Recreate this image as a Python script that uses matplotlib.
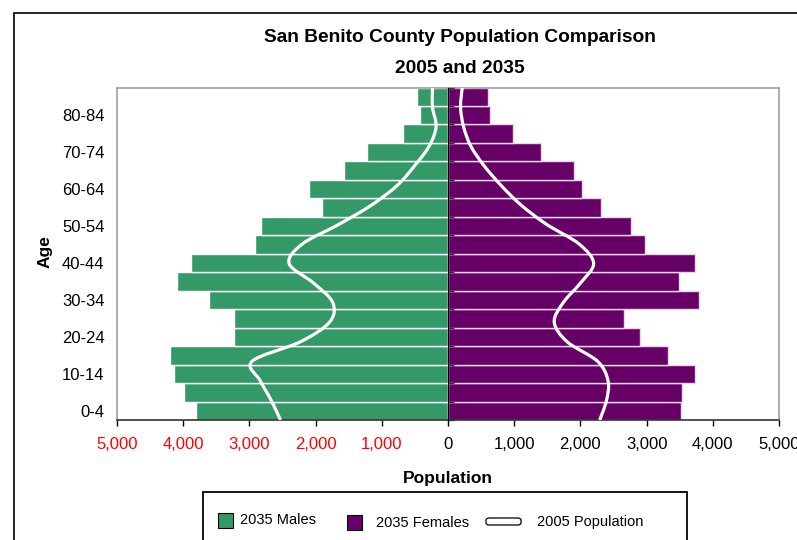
import numpy as np
import matplotlib
matplotlib.use('Agg')
import matplotlib.pyplot as plt
from matplotlib.path import Path
from matplotlib.patches import PathPatch, Rectangle, FancyBboxPatch

plt.rcParams['font.family'] = ['Liberation Sans', 'DejaVu Sans']

age_groups = ['0-4', '5-9', '10-14', '15-19', '20-24', '25-29', '30-34', '35-39',
              '40-44', '45-49', '50-54', '55-59', '60-64', '65-69', '70-74',
              '75-79', '80-84', '85+']

# 2035 projection (bars)
males_2035 = [3800, 3995, 4135, 4195, 3240, 3240, 3615, 4095, 3880,
              2920, 2820, 1910, 2100, 1565, 1225, 675, 430, 475]
females_2035 = [3515, 3535, 3730, 3320, 2900, 2660, 3795, 3495, 3735,
                2975, 2760, 2305, 2025, 1900, 1405, 985, 640, 605]

# 2005 population (white smooth line)
males_2005 = [2530, 2670, 2835, 2960, 2230, 1790, 1740, 2030, 2400,
              2200, 1650, 1150, 765, 505, 285, 180, 235, 233]
females_2005 = [2292, 2394, 2418, 2260, 1800, 1605, 1740, 2000, 2200,
                1980, 1490, 1100, 800, 545, 345, 235, 190, 215]

x_ticks = [-5000, -4000, -3000, -2000, -1000, 0, 1000, 2000, 3000, 4000, 5000]

GREEN = '#339966'
PURPLE = '#660066'

W, H = 797, 540
fig = plt.figure(figsize=(W / 100, H / 100), dpi=100)
fig.patch.set_facecolor('white')

# outer chart border (runs off right / bottom)
fig.patches.append(Rectangle((14 / W, -0.2), 2, 1.2 - 13 / H, transform=fig.transFigure,
                             fill=False, edgecolor='black', lw=1.2))

ax = fig.add_axes([117 / W, 1 - 420 / H, (779 - 117) / W, (420 - 87.5) / H])

y = np.arange(len(age_groups))
ax.barh(y, -np.array(males_2035), height=1.0, color=GREEN, edgecolor='white', lw=1.0, zorder=2)
ax.barh(y, females_2035, height=1.0, color=PURPLE, edgecolor='#e8d8e8', lw=1.0, zorder=2)


def smooth_path(xs, ys):
    pts = np.column_stack([xs, ys]).astype(float)
    ext = np.vstack([pts[0], pts, pts[-1]])
    verts = [pts[0]]
    codes = [Path.MOVETO]
    for i in range(len(pts) - 1):
        p0, p1, p2, p3 = ext[i], ext[i + 1], ext[i + 2], ext[i + 3]
        verts += [p1 + (p2 - p0) / 6, p2 - (p3 - p1) / 6, p2]
        codes += [Path.CURVE4] * 3
    return Path(verts, codes)


# line points spread from bottom edge to top edge of the plot
n = len(age_groups)
line_y = -0.5 + np.arange(n) * n / (n - 1)
for vals in (-np.array(males_2005), np.array(females_2005)):
    ax.add_patch(PathPatch(smooth_path(vals, line_y), fill=False, edgecolor='white',
                           lw=2.3, capstyle='butt', zorder=3))

ax.set_xlim(-5000, 5000)
ax.set_ylim(-0.5, n - 0.5)

ax.set_xticks(x_ticks)
ax.set_xticklabels(['{:,}'.format(abs(v)) for v in x_ticks])
for lab, v in zip(ax.get_xticklabels(), x_ticks):
    lab.set_color('red' if v < 0 else 'black')
ax.tick_params(axis='x', direction='out', length=4, width=1, pad=8, labelsize=12, color='black')

ax.set_yticks(y[::2])
ax.set_yticklabels(age_groups[::2])
ax.tick_params(axis='y', length=0, pad=9, labelsize=12)

for s in ('top', 'right', 'left'):
    ax.spines[s].set_color('#a0a0a0')
    ax.spines[s].set_linewidth(1.2)
ax.spines['bottom'].set_color('#333333')
ax.spines['bottom'].set_linewidth(1.2)

# category axis crossing at zero
mid = ax.secondary_yaxis(0.5)
mid.set_yticks(np.arange(n + 1) - 0.5)
mid.set_yticklabels([])
mid.tick_params(direction='out', length=4, width=1, color='#333333')
mid.spines['left'].set_color('#333333')
mid.spines['left'].set_linewidth(1.2)
mid.set_zorder(4)

ax.set_xlabel('Population', fontsize=12.5, fontweight='bold', labelpad=14)
fig.text(45 / W, 1 - 252 / H, 'Age', rotation=90, fontsize=12.5, fontweight='bold',
         ha='center', va='center')

fig.text(460 / W, 1 - 38 / H, 'San Benito County Population Comparison', fontsize=13.8,
         fontweight='bold', ha='center', va='center')
fig.text(460 / W, 1 - 68.5 / H, '2005 and 2035', fontsize=13.8, fontweight='bold',
         ha='center', va='center')

# legend box
fig.patches.append(Rectangle((203 / W, -0.1), (687 - 203) / W, 0.1 + 1 - 492 / H,
                             transform=fig.transFigure, fill=False, edgecolor='black', lw=1.3))
fig.patches.append(Rectangle((218 / W, 1 - 528 / H), 15 / W, 15 / H, transform=fig.transFigure,
                             facecolor=GREEN, edgecolor='black', lw=0.8))
fig.patches.append(Rectangle((347 / W, 1 - 530 / H), 15 / W, 15 / H, transform=fig.transFigure,
                             facecolor=PURPLE, edgecolor='black', lw=0.8))
fig.patches.append(FancyBboxPatch((486 / W, 1 - 525 / H), 35 / W, 7 / H, transform=fig.transFigure,
                                  boxstyle='round,pad=0,rounding_size=0.004',
                                  facecolor='white', edgecolor='black', lw=0.9))
fig.text(240 / W, 1 - 520 / H, '2035 Males', fontsize=10.5, va='center')
fig.text(376 / W, 1 - 523 / H, '2035 Females', fontsize=10.5, va='center')
fig.text(537 / W, 1 - 522 / H, '2005 Population', fontsize=10.5, va='center')

fig.savefig('out.png', dpi=100)
